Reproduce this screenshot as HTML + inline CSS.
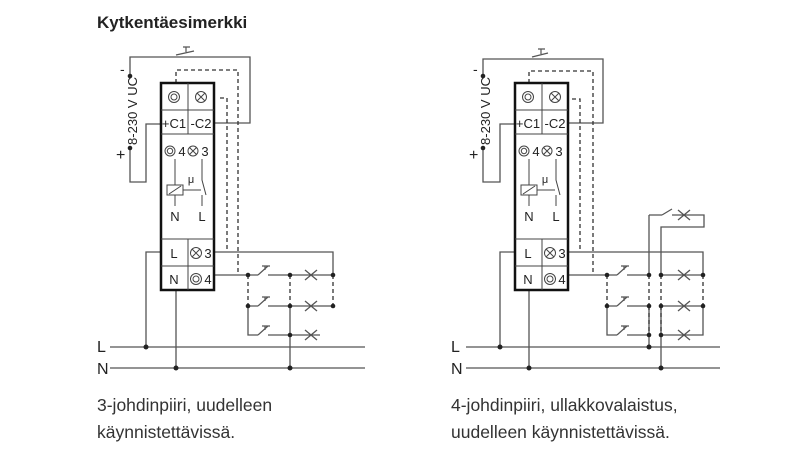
<!DOCTYPE html>
<html><head><meta charset="utf-8"><style>
html,body{margin:0;padding:0;background:#fff;}
svg{display:block;}
text{font-family:"Liberation Sans",sans-serif;}
</style></head><body>
<svg width="800" height="450" viewBox="0 0 800 450" xmlns="http://www.w3.org/2000/svg">
<defs>
<g id="x"><path d="M-6,-5 L6,5 M-6,5 L6,-5" stroke="#555" stroke-width="1.3" fill="none"/></g>
</defs>
<text x="97" y="28" font-size="17" font-weight="bold" fill="#222">Kytkentäesimerkki</text>

<!-- LEFT DIAGRAM -->
<g fill="none" stroke="#555" stroke-width="1.3">
<path d="M130,76 L130,57 L250,57 L250,123 L214,123"/>
<path d="M130,148 L130,182 L146,182 L146,124 L161,124"/>
<path d="M161,252 L146,252 L146,347"/>
<path d="M176,290 L176,368"/>
<path d="M214,252 L333,252 L333,275"/>
<path d="M214,275 L258,275 M268,275 L290,275 L333,275"/>
<path d="M248,306 L258,306 M268,306 L290,306 L333,306"/>
<path d="M248,306 L248,335 L258,335 M268,335 L290,335 L320,335"/>
<path d="M290,306 L290,368"/>
<path d="M110,347 L365,347 M110,368 L365,368"/>
</g>
<g fill="none" stroke="#333" stroke-width="1.3" stroke-dasharray="4,3">
<path d="M176,83 L176,70 L238,70 L238,275"/>
<path d="M220,98 L227,98 L227,252"/>
<path d="M248,275 L248,306 M290,275 L290,306 M333,275 L333,306"/>
</g>
<g fill="none" stroke="#555" stroke-width="1.2">
<path d="M176,55 L194,51 M183,47 L190,47 M186,47 L186,52"/>
<path d="M258,275 L268,266 M262,266 L270,266 M265,266 L265,270"/>
<path d="M258,306 L268,297 M262,297 L270,297 M265,297 L265,301"/>
<path d="M258,335 L268,326 M262,326 L270,326 M265,326 L265,330"/>
</g>
<use href="#x" x="311" y="275"/><use href="#x" x="311" y="306"/><use href="#x" x="311" y="335"/>
<g fill="#222">
<circle cx="130" cy="76" r="2.3"/><circle cx="130" cy="148" r="2.3"/>
<circle cx="146" cy="347" r="2.5"/><circle cx="176" cy="368" r="2.5"/><circle cx="290" cy="368" r="2.5"/>
<circle cx="248" cy="275" r="2.3"/><circle cx="290" cy="275" r="2.3"/><circle cx="333" cy="275" r="2.3"/>
<circle cx="248" cy="306" r="2.3"/><circle cx="290" cy="306" r="2.3"/><circle cx="333" cy="306" r="2.3"/>
<circle cx="290" cy="335" r="2.3"/>
</g>
<text x="120" y="74" font-size="14" fill="#222">-</text>
<text x="116" y="160" font-size="16" fill="#222">+</text>
<text transform="translate(137,111) rotate(-90)" font-size="13" fill="#222" text-anchor="middle">8-230 V UC</text>
<text x="97" y="352" font-size="16" fill="#222">L</text>
<text x="97" y="374" font-size="16" fill="#222">N</text>

<!-- RIGHT DIAGRAM -->
<g fill="none" stroke="#555" stroke-width="1.3">
<path d="M483,76 L483,59 L603,59 L603,123 L568,123"/>
<path d="M483,148 L483,182 L500,182 L500,124 L515,124"/>
<path d="M515,252 L500,252 L500,347"/>
<path d="M529,289 L529,368"/>
<path d="M568,252 L703,252 L703,275"/>
<path d="M568,275 L617,275 M627,275 L649,275 M661,275 L703,275"/>
<path d="M607,306 L617,306 M627,306 L649,306 M661,306 L703,306"/>
<path d="M607,306 L607,335 L617,335 M627,335 L649,335 M661,335 L703,335 L703,306"/>
<path d="M649,306 L649,347 M649,215 L649,275"/>
<path d="M649,215 L662,215 M672,215 L704,215 L704,227 L661,227 L661,275 M661,306 L661,368"/>
<path d="M466,347 L720,347 M466,368 L720,368"/>
</g>
<g fill="none" stroke="#333" stroke-width="1.3" stroke-dasharray="4,3">
<path d="M529,83 L529,71 L593,71 L593,275"/>
<path d="M572,99 L580,99 L580,252"/>
<path d="M607,275 L607,306 M649,275 L649,306 M661,275 L661,306 M661,306 L661,335 M649,306 L649,335 M703,275 L703,306"/>
</g>
<g fill="none" stroke="#555" stroke-width="1.2">
<path d="M532,57 L548,53 M538,49 L545,49 M541,49 L541,54"/>
<path d="M617,275 L627,266 M621,266 L629,266 M624,266 L624,270"/>
<path d="M617,306 L627,297 M621,297 L629,297 M624,297 L624,301"/>
<path d="M617,335 L627,326 M621,326 L629,326 M624,326 L624,330"/>
<path d="M662,215 L672,209"/>
</g>
<use href="#x" x="684" y="215"/><use href="#x" x="684" y="275"/><use href="#x" x="684" y="306"/><use href="#x" x="684" y="335"/>
<g fill="#222">
<circle cx="483" cy="76" r="2.3"/><circle cx="483" cy="148" r="2.3"/>
<circle cx="500" cy="347" r="2.5"/><circle cx="529" cy="368" r="2.5"/>
<circle cx="649" cy="347" r="2.5"/><circle cx="661" cy="368" r="2.5"/>
<circle cx="607" cy="275" r="2.3"/><circle cx="649" cy="275" r="2.3"/><circle cx="661" cy="275" r="2.3"/><circle cx="703" cy="275" r="2.3"/>
<circle cx="607" cy="306" r="2.3"/><circle cx="649" cy="306" r="2.3"/><circle cx="661" cy="306" r="2.3"/><circle cx="703" cy="306" r="2.3"/>
<circle cx="649" cy="335" r="2.3"/><circle cx="661" cy="335" r="2.3"/>
</g>
<text x="473" y="74" font-size="14" fill="#222">-</text>
<text x="469" y="160" font-size="16" fill="#222">+</text>
<text transform="translate(490,111) rotate(-90)" font-size="13" fill="#222" text-anchor="middle">8-230 V UC</text>
<text x="451" y="352" font-size="16" fill="#222">L</text>
<text x="451" y="374" font-size="16" fill="#222">N</text>

<!-- RELAY BOXES -->
<g id="box" transform="translate(161,83)">
<rect x="0" y="0" width="53" height="207" fill="#fff" stroke="#111" stroke-width="2.5"/>
<g stroke="#444" stroke-width="1" fill="none">
<path d="M0,27 H53 M0,51 H53 M0,156 H53 M0,183 H53 M27,0 V51 M27,156 V207"/>
<circle cx="13" cy="14" r="5.5"/><circle cx="13" cy="14" r="3"/>
<circle cx="40" cy="14" r="5.5"/><path d="M36,10 L44,18 M36,18 L44,10"/>
<circle cx="9" cy="68" r="5"/><circle cx="9" cy="68" r="2.7"/>
<circle cx="32" cy="68" r="5"/><path d="M28.5,64.5 L35.5,71.5 M28.5,71.5 L35.5,64.5"/>
<path d="M14,76 V102 M14,112 V123"/>
<rect x="6" y="102" width="16" height="10"/>
<path d="M8,111 L20,103"/>
<path d="M22,107 H40"/>
<path d="M41,76 V97 L45,112 M41,112 V123"/>
<circle cx="35" cy="170" r="5.5"/><path d="M31,166 L39,174 M31,174 L39,166"/>
<circle cx="35" cy="196" r="5.5"/><circle cx="35" cy="196" r="3"/>
</g>
<g font-size="13" fill="#222" text-anchor="middle">
<text x="13" y="45">+C1</text><text x="40" y="45">-C2</text>
<text x="21" y="73">4</text><text x="44" y="73">3</text>
<text x="30" y="100" font-size="11">μ</text>
<text x="14" y="138">N</text><text x="41" y="138">L</text>
<text x="13" y="175">L</text><text x="47" y="175">3</text>
<text x="13" y="201">N</text><text x="47" y="201">4</text>
</g>
</g>
<use href="#box" x="354" y="0"/>

<g font-size="17.5" fill="#333">
<text x="97" y="411">3-johdinpiiri, uudelleen</text>
<text x="97" y="438">käynnistettävissä.</text>
<text x="451" y="411">4-johdinpiiri, ullakkovalaistus,</text>
<text x="451" y="438">uudelleen käynnistettävissä.</text>
</g>
</svg>
</body></html>
